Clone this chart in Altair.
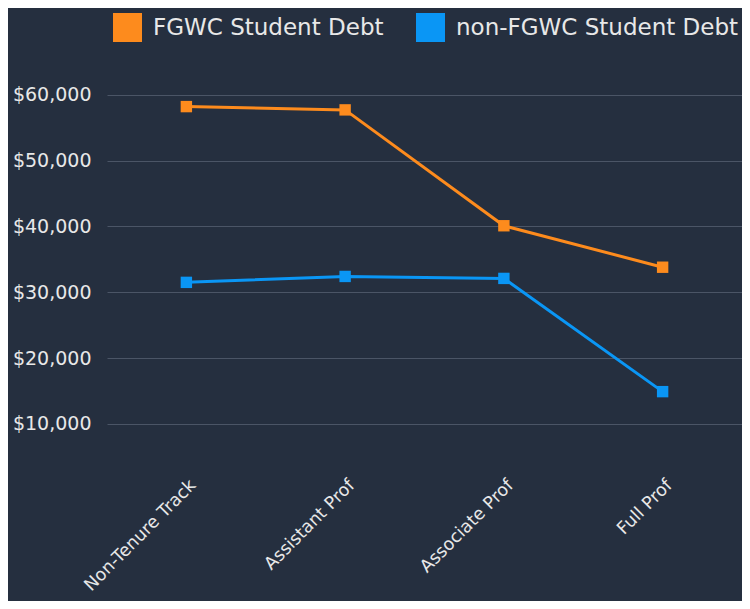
import altair as alt
import pandas as pd

categories = ["Non-Tenure Track", "Assistant Prof", "Associate Prof", "Full Prof"]
fgwc_debt = [58200, 57700, 40100, 33800]
non_fgwc_debt = [31500, 32400, 32100, 14900]
series_names = ["FGWC Student Debt", "non-FGWC Student Debt"]
series_colors = ["#fd8b1d", "#0a96f5"]
y_ticks = [10000, 20000, 30000, 40000, 50000, 60000]

rows = []
for c, v in zip(categories, fgwc_debt):
    rows.append({"rank": c, "debt": v, "series": series_names[0]})
for c, v in zip(categories, non_fgwc_debt):
    rows.append({"rank": c, "debt": v, "series": series_names[1]})
df = pd.DataFrame(rows)

bg = "#252f3f"
text_col = "#e8e8e8"
font = "DejaVu Sans"

x = alt.X("rank:N", sort=categories, title=None,
          scale=alt.Scale(padding=0.5),
          axis=alt.Axis(labelAngle=-45, labelFontSize=17.5, labelColor=text_col,
                        labelFont=font, domain=False, ticks=False, grid=False,
                        labelPadding=8, labelLimit=0))
y = alt.Y("debt:Q", title=None,
          scale=alt.Scale(domain=[3300, 63000], nice=False, zero=False),
          axis=alt.Axis(values=y_ticks, format="$,.0f", labelFontSize=19,
                        labelColor=text_col, labelFont=font, domain=False,
                        ticks=False, gridColor="#4b5566", gridWidth=1.2,
                        labelPadding=16))
color = alt.Color("series:N", sort=series_names,
                  scale=alt.Scale(domain=series_names, range=series_colors),
                  legend=alt.Legend(title=None, orient="none", direction="horizontal",
                                    legendX=6, legendY=-62, symbolType="square",
                                    symbolSize=841, symbolStrokeWidth=0,
                                    symbolOpacity=1, labelFontSize=23,
                                    labelFont=font, labelColor=text_col,
                                    columnPadding=32, labelOffset=11, labelLimit=0))

base = alt.Chart(df).encode(x=x, y=y, color=color)
lines = base.mark_line(strokeWidth=3)
points = base.mark_point(shape="square", filled=True, size=130, opacity=1)

chart = (lines + points).properties(
    width=635, height=393, background=bg,
    autosize=alt.AutoSizeParams(type="none"),
    padding={"left": 99, "top": 67, "right": 0, "bottom": 133},
).configure_view(stroke=None)

chart.save("out.html", embed_options={"renderer": "svg", "actions": False})
